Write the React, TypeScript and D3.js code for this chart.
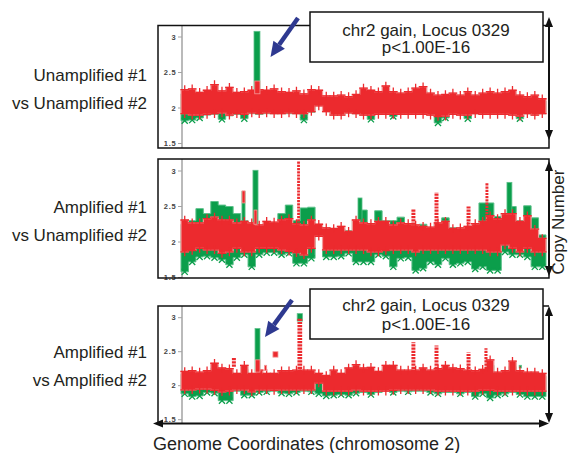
import React from "react"
import * as d3 from "d3"

// bin starts along chromosome 2 (Mb), 5 Mb bins
const binStart = [
  0, 5, 10, 15, 20, 25, 30, 35, 40, 45, 50, 55, 60, 65, 70, 75, 80, 85, 90, 95,
  100, 105, 110, 115, 120, 125, 130, 135, 140, 145, 150, 155, 160, 165, 170,
  175, 180, 185, 190, 195, 200, 205, 210, 215, 220, 225, 230, 235, 240,
]
const chrEnd = 245
const yTicks = [1.5, 2, 2.5, 3]

// panel 1: Unamplified #1 vs Unamplified #2
const p1RedHi = [
  2.26, 2.27, 2.22, 2.25, 2.33, 2.24, 2.29, 2.22, 2.23, 2.25, 2.26, 2.25, 2.27,
  2.23, 2.22, 2.24, 2.2, 2.26, 2.25, 2.17, 2.17, 2.18, 2.16, 2.19, 2.28, 2.25,
  2.23, 2.31, 2.23, 2.21, 2.23, 2.28, 2.3, 2.21, 2.18, 2.19, 2.21, 2.18, 2.23,
  2.18, 2.21, 2.23, 2.21, 2.23, 2.25, 2.18, 2.16, 2.18, 2.13,
]
const p1RedLo = [
  1.92, 1.9, 1.9, 1.91, 1.92, 1.93, 1.9, 1.92, 1.91, 1.93, 1.92, 1.93, 1.92,
  1.92, 1.93, 1.92, 1.92, 1.95, 2.03, 1.95, 1.9, 1.9, 1.93, 1.92, 1.9, 1.9,
  1.91, 1.91, 1.91, 1.91, 1.91, 1.91, 1.91, 1.9, 1.88, 1.885, 1.91, 1.9, 1.9,
  1.92, 1.91, 1.91, 1.91, 1.91, 1.9, 1.885, 1.92, 1.9, 1.92,
]
const p1GreenHi = [
  2.2, 2.22, 2.18, 2.2, 2.25, 2.2, 2.22, 2.18, 2.19, 2.2, 2.21, 2.2, 2.22, 2.18,
  2.18, 2.19, 2.16, 2.2, 2.2, 2.12, 2.12, 2.14, 2.12, 2.15, 2.22, 2.2, 2.18,
  2.24, 2.18, 2.17, 2.18, 2.22, 2.24, 2.17, 2.14, 2.15, 2.17, 2.14, 2.18, 2.14,
  2.17, 2.18, 2.17, 2.18, 2.2, 2.14, 2.12, 2.14, 2.1,
]
const p1GreenLo = [
  1.82, 1.83, 1.86, 1.9, 1.91, 1.84, 1.89, 1.91, 1.85, 1.92, 1.91, 1.92, 1.92,
  1.92, 1.92, 1.92, 1.83, 1.94, 2.04, 1.95, 1.9, 1.9, 1.93, 1.92, 1.9, 1.84,
  1.91, 1.91, 1.88, 1.91, 1.91, 1.91, 1.91, 1.9, 1.79, 1.86, 1.91, 1.9, 1.85,
  1.92, 1.91, 1.91, 1.91, 1.91, 1.9, 1.85, 1.92, 1.9, 1.92,
]
// [start Mb, end Mb, low, high, colour, style]
const p1Spikes = [
  [49, 53, 2.2, 3.08, "green", "bar"],
  [49.5, 53, 2.2, 2.38, "red", "bar"],
]

// panel 2: Amplified #1 vs Unamplified #2
const p2RedHi = [
  2.31, 2.27, 2.27, 2.33, 2.35, 2.31, 2.31, 2.27, 2.29, 2.27, 2.24, 2.29, 2.28,
  2.31, 2.33, 2.26, 2.24, 2.31, 2.25, 2.2, 2.19, 2.22, 2.15, 2.31, 2.27, 2.26,
  2.29, 2.29, 2.24, 2.27, 2.26, 2.24, 2.22, 2.21, 2.27, 2.29, 2.19, 2.2, 2.22,
  2.26, 2.29, 2.37, 2.33, 2.4, 2.4, 2.29, 2.37, 2.18, 2.05,
]
const p2RedLo = [
  1.86, 1.88, 1.91, 1.89, 1.89, 1.84, 1.86, 1.91, 1.86, 1.86, 1.91, 1.91, 1.91,
  1.89, 1.87, 1.85, 1.82, 1.91, 2.08, 1.89, 1.89, 1.89, 1.89, 1.89, 1.89, 1.86,
  1.86, 1.88, 1.89, 1.89, 1.89, 1.86, 1.89, 1.89, 1.89, 1.89, 1.89, 1.89, 1.89,
  1.89, 1.89, 1.86, 1.86, 1.96, 1.91, 1.86, 1.91, 1.86, 1.86,
]
const p2GreenHi = [
  2.25, 2.3, 2.47, 2.4, 2.57, 2.52, 2.5, 2.4, 2.3, 2.25, 2.2, 2.25, 2.2, 2.4,
  2.52, 2.3, 2.48, 2.49, 2.2, 2.2, 2.18, 2.18, 2.16, 2.3, 2.45, 2.25, 2.44, 2.3,
  2.3, 2.35, 2.25, 2.22, 2.25, 2.2, 2.25, 2.34, 2.2, 2.2, 2.2, 2.25, 2.55, 2.55,
  2.36, 2.4, 2.5, 2.3, 2.51, 2.34, 2.1,
]
const p2GreenLo = [
  1.58, 1.72, 1.79, 1.8, 1.78, 1.75, 1.68, 1.78, 1.82, 1.65, 1.82, 1.85, 1.85,
  1.82, 1.84, 1.7, 1.7, 1.77, 2.08, 1.79, 1.79, 1.8, 1.84, 1.72, 1.72, 1.72,
  1.82, 1.8, 1.65, 1.77, 1.78, 1.6, 1.63, 1.72, 1.68, 1.77, 1.68, 1.7, 1.72,
  1.62, 1.65, 1.6, 1.6, 1.86, 1.82, 1.82, 1.79, 1.65, 1.65,
]
const p2Spikes = [
  [40.9, 43, 2.2, 2.71, "green", "bar"],
  [41, 43, 2.55, 2.72, "red", "bar"],
  [48.3, 51.7, 2.2, 3.01, "green", "bar"],
  [49, 51, 2.25, 2.45, "red", "bar"],
  [78.3, 79.5, 2.2, 3.14, "red", "dots"],
  [118.8, 121.5, 2.2, 2.62, "green", "bar"],
  [155, 157, 2.2, 2.47, "red", "dots"],
  [170.5, 172.5, 2.2, 2.7, "red", "dots"],
  [192, 194, 2.2, 2.51, "red", "dots"],
  [204.7, 206, 2.3, 2.84, "red", "dots"],
  [218.8, 222.1, 2.2, 2.84, "green", "bar"],
]

// panel 3: Amplified #1 vs Amplified #2
const p3RedHi = [
  2.21, 2.22, 2.2, 2.22, 2.33, 2.26, 2.25, 2.18, 2.3, 2.18, 2.23, 2.18, 2.18,
  2.22, 2.22, 2.23, 2.23, 2.23, 2.18, 2.15, 2.23, 2.18, 2.26, 2.31, 2.26, 2.27,
  2.21, 2.3, 2.3, 2.23, 2.23, 2.23, 2.26, 2.23, 2.25, 2.3, 2.26, 2.25, 2.23,
  2.22, 2.24, 2.38, 2.2, 2.22, 2.36, 2.22, 2.2, 2.2, 2.18,
]
const p3RedLo = [
  1.94, 1.94, 1.95, 1.95, 1.93, 1.91, 1.92, 1.94, 1.94, 1.91, 1.94, 1.94, 1.93,
  1.94, 1.94, 1.94, 1.94, 1.94, 2.04, 1.92, 1.92, 1.92, 1.92, 1.94, 1.92, 1.92,
  1.92, 1.92, 1.93, 1.94, 1.94, 1.94, 1.94, 1.94, 1.92, 1.92, 1.92, 1.92, 1.92,
  1.92, 1.93, 1.93, 1.92, 1.92, 1.92, 1.92, 1.92, 1.92, 1.92,
]
const p3GreenHi = [
  2.17, 2.18, 2.16, 2.18, 2.26, 2.21, 2.2, 2.14, 2.24, 2.14, 2.18, 2.14, 2.14,
  2.18, 2.18, 2.18, 2.18, 2.18, 2.14, 2.11, 2.18, 2.14, 2.2, 2.24, 2.2, 2.21,
  2.17, 2.24, 2.24, 2.18, 2.18, 2.18, 2.2, 2.18, 2.2, 2.24, 2.2, 2.2, 2.18,
  2.18, 2.19, 2.3, 2.16, 2.18, 2.28, 2.18, 2.16, 2.16, 2.14,
]
const p3GreenLo = [
  1.88, 1.84, 1.85, 1.9, 1.89, 1.78, 1.78, 1.92, 1.86, 1.86, 1.9, 1.91, 1.92,
  1.89, 1.88, 1.9, 1.92, 1.91, 1.88, 1.85, 1.86, 1.87, 1.86, 1.89, 1.9, 1.87,
  1.9, 1.92, 1.9, 1.92, 1.91, 1.92, 1.92, 1.9, 1.88, 1.9, 1.9, 1.88, 1.9, 1.84,
  1.88, 1.82, 1.86, 1.88, 1.9, 1.87, 1.84, 1.84, 1.84,
]
const p3Spikes = [
  [34.5, 36.5, 2.28, 2.42, "red", "dots"],
  [49.7, 53, 2.2, 2.84, "green", "bar"],
  [50, 53, 2.2, 2.38, "red", "bar"],
  [56, 57.5, 2.22, 2.3, "red", "bar"],
  [61.7, 65.1, 2.42, 2.5, "red", "bar"],
  [78, 81.5, 2.95, 3.06, "green", "bar"],
  [78.5, 81, 2.2, 2.99, "red", "dots"],
  [155, 157, 2.2, 2.64, "red", "dots"],
  [170.5, 172.5, 2.2, 2.59, "red", "dots"],
  [192, 194, 2.2, 2.49, "red", "dots"],
  [204, 205.4, 2.2, 2.55, "red", "dots"],
  [227, 228.5, 2.26, 2.3, "green", "bar"],
]

const RED = "#ec2a2e"
const RED_EDGE = "#f49a9a"
const GREEN = "#0b9e4b"
const GREEN_EDGE = "#5cc08a"
const BLUE = "#2e3990"
const INK = "#231f20"
const FONT = "'Liberation Sans', Arial, Helvetica, sans-serif"

const panels = [
  {
    id: "p1", top: 25.5, bottom: 148, y15: 143.5, y3: 37,
    labels: ["Unamplified #1", "vs Unamplified #2"], labelY: [81, 109],
    redHi: p1RedHi, redLo: p1RedLo, greenHi: p1GreenHi, greenLo: p1GreenLo, spikes: p1Spikes,
  },
  {
    id: "p2", top: 159, bottom: 278, y15: 277.5, y3: 171,
    labels: ["Amplified #1", "vs Unamplified #2"], labelY: [213, 241],
    redHi: p2RedHi, redLo: p2RedLo, greenHi: p2GreenHi, greenLo: p2GreenLo, spikes: p2Spikes,
  },
  {
    id: "p3", top: 306, bottom: 424, y15: 419.7, y3: 317.7,
    labels: ["Amplified #1", "vs Amplified #2"], labelY: [358, 386],
    redHi: p3RedHi, redLo: p3RedLo, greenHi: p3GreenHi, greenLo: p3GreenLo, spikes: p3Spikes,
  },
]

const x = d3.scaleLinear().domain([0, chrEnd]).range([181, 546])
const xs = [...binStart, chrEnd]
const plus = d3.symbol(d3.symbolPlus, 26)()
const times = d3.symbol(d3.symbolTimes, 26)()

function Panel({ p }) {
  const y = d3.scaleLinear().domain([1.5, 3]).range([p.y15, p.y3])
  const at = (arr, i) => arr[Math.min(i, arr.length - 1)]
  const band = (hi, lo) =>
    d3
      .area()
      .x(g => x(g))
      .y0((_, i) => y(at(lo, i)))
      .y1((_, i) => y(at(hi, i)))
      .curve(d3.curveStepAfter)(xs)
  const mid = g => x(g + 2.5)
  return (
    <g>
      <defs>
        <clipPath id={"clip-" + p.id}>
          <rect x={159} y={p.top + 1} width={388} height={p.bottom - p.top - 2} />
        </clipPath>
      </defs>
      {/* y axis */}
      <line x1={182} x2={182} y1={p.top} y2={p.bottom} stroke="#a3a3a3" strokeWidth={1.5} />
      {yTicks.map(t => (
        <g key={t}>
          <line x1={178} x2={182} y1={y(t)} y2={y(t)} stroke="#a3a3a3" strokeWidth={1} />
          <text
            x={176.5}
            y={y(t)}
            dy="0.35em"
            textAnchor="end"
            fontSize={7.5}
            fontWeight="bold"
            letterSpacing={0.8}
            fill="#444"
            fontFamily={FONT}
          >
            {t}
          </text>
        </g>
      ))}
      <g clipPath={`url(#clip-${p.id})`}>
        <path d={band(p.greenHi, p.greenLo)} fill={GREEN} stroke={GREEN_EDGE} strokeWidth={1} />
        {binStart.map((g, i) =>
          p.greenLo[i] < p.redLo[i] - 0.02 ? (
            <path
              key={"gm" + i}
              d={times}
              transform={`translate(${mid(g)},${y(p.greenLo[i])})`}
              stroke={GREEN}
              strokeWidth={1.3}
              fill="none"
            />
          ) : null
        )}
        {p.spikes
          .filter(s => s[4] === "green")
          .map((s, i) => (
            <rect
              key={"g" + i}
              x={x(s[0])}
              width={x(s[1]) - x(s[0])}
              y={y(s[3])}
              height={y(s[2]) - y(s[3])}
              fill={GREEN}
              stroke={GREEN_EDGE}
              strokeWidth={0.8}
            />
          ))}
        <path d={band(p.redHi, p.redLo)} fill={RED} stroke={RED_EDGE} strokeWidth={1.2} />
        {binStart.map((g, i) => (
          <g key={"rm" + i} stroke={RED} strokeWidth={1.3} fill="none">
            <path d={plus} transform={`translate(${mid(g)},${y(p.redHi[i])})`} />
            <path d={plus} transform={`translate(${mid(g)},${y(p.redLo[i])})`} />
          </g>
        ))}
        {p.spikes
          .filter(s => s[4] === "red")
          .map((s, i) =>
            s[5] === "bar" ? (
              <rect
                key={"r" + i}
                x={x(s[0])}
                width={x(s[1]) - x(s[0])}
                y={y(s[3])}
                height={y(s[2]) - y(s[3])}
                fill={RED}
                stroke={RED_EDGE}
                strokeWidth={0.8}
              />
            ) : (
              <line
                key={"r" + i}
                x1={(x(s[0]) + x(s[1])) / 2}
                x2={(x(s[0]) + x(s[1])) / 2}
                y1={y(s[2])}
                y2={y(s[3])}
                stroke={RED}
                strokeWidth={x(s[1]) - x(s[0]) + 1}
                strokeDasharray="2.2 1"
              />
            )
          )}
      </g>
      {p.labels.map((l, i) => (
        <text
          key={l + i}
          x={147}
          y={p.labelY[i]}
          textAnchor="end"
          fontSize={17}
          fill={INK}
          fontFamily={FONT}
        >
          {l}
        </text>
      ))}
    </g>
  )
}

function VArrow({ x0, y1, y2 }) {
  return (
    <g fill="#111">
      <line x1={x0} x2={x0} y1={y1 + 6} y2={y2 - 6} stroke="#111" strokeWidth={2} />
      <path d={`M${x0},${y1} L${x0 - 4},${y1 + 10} L${x0 + 4},${y1 + 10} Z`} />
      <path d={`M${x0},${y2} L${x0 - 4},${y2 - 10} L${x0 + 4},${y2 - 10} Z`} />
    </g>
  )
}

function Callout({ top, base }) {
  return (
    <g>
      <rect x={310} y={top} width={233} height={50} fill="#fff" stroke="#111" strokeWidth={1.5} />
      <text x={426} y={top + base[0]} textAnchor="middle" fontSize={17} fill={INK} fontFamily={FONT}>
        chr2 gain, Locus 0329
      </text>
      <text x={426} y={top + base[1]} textAnchor="middle" fontSize={17} fill={INK} fontFamily={FONT}>
        p&lt;1.00E-16
      </text>
    </g>
  )
}

function BlueArrow({ tx, ty, hx, hy }) {
  const a = Math.atan2(hy - ty, hx - tx)
  const L = 15
  const wdt = 7
  const bx = hx - L * Math.cos(a)
  const by = hy - L * Math.sin(a)
  const nx = -Math.sin(a) * wdt
  const ny = Math.cos(a) * wdt
  return (
    <g>
      <line x1={tx} y1={ty} x2={bx} y2={by} stroke={BLUE} strokeWidth={4.5} />
      <path d={`M${hx},${hy} L${bx + nx},${by + ny} L${bx - nx},${by - ny} Z`} fill={BLUE} />
    </g>
  )
}

export default function App() {
  return (
    <svg
      width={568}
      height={453}
      style={{ position: "fixed", left: 0, top: 0, background: "#fff" }}
    >
      <rect width={568} height={453} fill="#fff" />
      {panels.map(p => (
        <Panel key={p.id} p={p} />
      ))}
      {/* frames */}
      <rect x={158} y={25.5} width={391} height={122.5} fill="none" stroke="#111" strokeWidth={1.5} />
      <rect x={158} y={159} width={391} height={119} fill="none" stroke="#111" strokeWidth={1.5} />
      <path d="M158,424 L158,306 L549,306" fill="none" stroke="#111" strokeWidth={1.5} />
      <VArrow x0={549} y1={17} y2={140} />
      <VArrow x0={549} y1={161} y2={276} />
      <VArrow x0={549} y1={306} y2={423} />
      <g fill="#111">
        <line x1={160} x2={543} y1={423.5} y2={423.5} stroke="#111" strokeWidth={2.2} />
        <path d="M153,423.5 L163,419.5 L163,427.5 Z" />
        <path d="M549,423.5 L539,419.5 L539,427.5 Z" />
      </g>
      <Callout top={12} base={[23.5, 41]} />
      <Callout top={289} base={[22, 40.5]} />
      <BlueArrow tx={298} ty={18} hx={270.5} hy={57} />
      <BlueArrow tx={292} ty={300} hx={265} hy={337} />
      <text x={153} y={450} fontSize={18} fill={INK} fontFamily={FONT}>
        Genome Coordinates (chromosome 2)
      </text>
      <text
        transform="translate(564,222) rotate(-90)"
        textAnchor="middle"
        fontSize={17}
        fill={INK}
        fontFamily={FONT}
      >
        Copy Number
      </text>
    </svg>
  )
}
